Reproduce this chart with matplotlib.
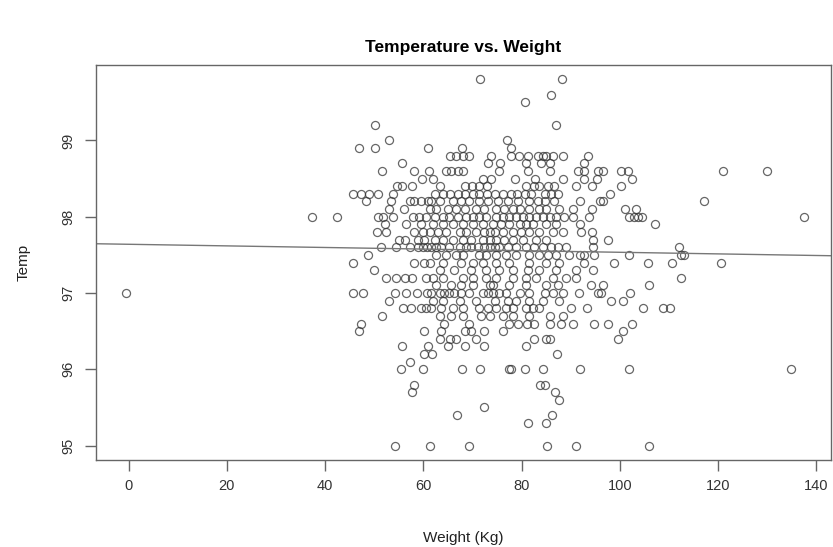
import numpy as np
import matplotlib
matplotlib.use("Agg")
import matplotlib.pyplot as plt

plt.rcParams['font.family'] = ['Liberation Sans', 'DejaVu Sans']

temp_rows = [99.8, 99.6, 99.5, 99.2, 99.0, 98.9, 98.8, 98.7, 98.6, 98.5, 98.4,
             98.3, 98.2, 98.1, 98.0, 97.9, 97.8, 97.7, 97.6, 97.5, 97.4, 97.3,
             97.2, 97.1, 97.0, 96.9, 96.8, 96.7, 96.6, 96.5, 96.4, 96.3, 96.2,
             96.1, 96.0, 95.8, 95.7, 95.6, 95.5, 95.4, 95.3, 95.0]
weights_by_row = [
    [71.6, 88.3],
    [86.0],
    [80.7],
    [50.2, 87.0],
    [53.1, 77.1],
    [46.9, 50.2, 61.0, 67.9, 77.9],
    [65.5, 66.7, 68.0, 69.4, 73.7, 77.9, 79.4, 81.3, 83.3, 84.3, 85.0, 86.3, 88.4, 93.5],
    [55.6, 73.1, 75.7, 80.9, 84.0, 85.7, 92.8],
    [51.5, 58.0, 61.2, 64.7, 65.7, 67.0, 68.0, 75.5, 81.4, 85.7, 91.4, 92.8, 95.5,
     96.5, 100.3, 101.6, 121.1, 130.0],
    [59.8, 61.9, 72.1, 73.8, 78.6, 82.8, 88.4, 92.8, 95.3, 102.5],
    [54.6, 55.6, 57.7, 63.3, 68.4, 69.9, 71.4, 72.9, 80.9, 82.6, 83.6, 85.3, 86.7,
     91.1, 94.4, 100.3],
    [45.6, 47.4, 49.0, 50.7, 53.8, 62.3, 64.0, 65.5, 67.0, 68.4, 70.1, 71.4, 72.9,
     74.5, 76.2, 77.9, 79.0, 80.6, 81.9, 84.7, 86.0, 87.4, 98.0],
    [48.4, 53.5, 57.2, 58.2, 59.6, 60.9, 61.6, 63.3, 66.0, 67.7, 69.4, 71.4, 73.1,
     75.2, 77.2, 79.2, 81.6, 83.3, 84.7, 86.7, 91.9, 96.0, 96.5, 117.2],
    [53.1, 56.1, 61.3, 62.6, 65.0, 66.7, 68.4, 70.8, 72.4, 74.8, 76.5, 78.2, 79.6,
     81.6, 83.6, 85.0, 87.7, 90.4, 94.4, 101.1, 103.3],
    [37.4, 42.5, 50.7, 51.8, 53.8, 57.9, 59.2, 60.6, 62.3, 64.0, 65.3, 67.0, 68.7,
     70.1, 71.4, 72.8, 74.8, 76.2, 77.5, 78.9, 80.2, 81.6, 83.0, 84.3, 85.7, 87.0,
     88.7, 90.4, 93.8, 101.8, 102.8, 103.7, 104.5, 137.6],
    [52.1, 56.5, 59.6, 61.9, 64.0, 66.0, 68.0, 70.1, 72.1, 74.1, 75.8, 77.5, 79.6,
     80.9, 82.3, 85.0, 87.0, 91.8, 107.2],
    [50.5, 52.4, 58.0, 59.9, 61.3, 63.0, 64.6, 67.4, 68.7, 70.8, 72.4, 73.5, 74.5,
     76.2, 78.2, 79.9, 81.6, 83.6, 86.4, 88.4, 92.1, 94.4],
    [55.1, 56.2, 58.9, 60.2, 62.3, 64.0, 66.0, 68.0, 69.7, 72.1, 73.5, 74.8, 76.5,
     78.2, 80.2, 83.0, 85.0, 94.5, 97.5],
    [51.4, 54.5, 57.2, 58.9, 59.9, 60.7, 61.6, 62.6, 63.6, 65.3, 67.4, 68.7, 69.7,
     71.1, 72.4, 73.5, 74.5, 75.5, 77.2, 78.9, 80.9, 82.6, 84.3, 86.0, 87.4, 89.1,
     94.6, 112.0],
    [48.8, 62.6, 64.6, 66.7, 68.0, 71.4, 72.8, 74.8, 76.9, 78.9, 81.6, 83.6, 85.3,
     87.0, 89.7, 91.9, 92.8, 94.8, 101.9, 112.5, 113.0],
    [45.6, 58.2, 60.2, 61.3, 64.0, 67.7, 70.1, 72.1, 74.8, 77.5, 81.6, 85.0, 87.7,
     92.8, 98.9, 105.7, 110.6, 120.6],
    [49.9, 63.3, 66.3, 69.7, 72.8, 75.5, 78.2, 81.3, 83.6, 87.0, 91.0, 94.5],
    [52.4, 54.5, 56.2, 57.7, 60.6, 61.9, 64.0, 68.0, 70.1, 72.8, 74.8, 78.2, 80.9,
     83.0, 86.4, 89.1, 91.1, 112.5],
    [62.6, 65.7, 67.7, 70.1, 73.5, 74.1, 77.5, 80.9, 85.0, 87.4, 94.2, 96.5, 106.0],
    [-0.5, 45.6, 47.8, 54.3, 56.5, 58.7, 60.7, 61.6, 63.3, 64.3, 65.3, 66.3, 67.7,
     69.4, 72.1, 73.1, 74.1, 75.5, 76.9, 79.6, 81.6, 84.7, 86.4, 88.4, 91.6, 95.5,
     96.2, 102.0],
    [53.1, 61.9, 64.0, 67.4, 70.8, 74.5, 77.2, 78.9, 81.6, 84.3, 87.7, 98.2, 100.6],
    [55.8, 57.5, 59.6, 60.6, 61.6, 63.6, 66.0, 68.0, 71.4, 73.1, 74.8, 76.9, 78.2,
     80.9, 82.3, 83.6, 90.1, 93.3, 104.8, 108.7, 110.3],
    [51.6, 63.3, 65.7, 68.0, 71.8, 73.5, 76.2, 78.2, 81.6, 85.7, 88.4],
    [47.4, 64.3, 69.4, 77.5, 79.2, 81.1, 82.6, 85.7, 88.0, 90.4, 94.8, 97.5, 102.5],
    [47.0, 60.2, 63.6, 68.4, 69.7, 72.4, 76.2, 100.7],
    [63.3, 65.5, 66.7, 70.8, 82.6, 85.0, 85.7, 99.6],
    [55.6, 60.9, 65.0, 68.4, 72.4, 80.9],
    [60.2, 61.8, 87.3],
    [57.3],
    [55.4, 59.9, 67.9, 71.6, 77.4, 77.8, 80.6, 84.3, 91.8, 101.9, 134.9],
    [58.0, 83.8, 84.7],
    [57.7, 86.9],
    [87.6],
    [72.4],
    [66.8, 86.2],
    [81.4, 84.9],
    [54.3, 61.3, 69.4, 85.1, 91.1, 106.0],
]

# fitted line
fit_intercept = 97.639
fit_slope = -0.00105

weight = np.concatenate([np.array(w, dtype=float) for w in weights_by_row])
temp = np.concatenate([np.full(len(w), t) for t, w in zip(temp_rows, weights_by_row)])

fig = plt.figure(figsize=(8.33, 5.47), dpi=100)
ax = fig.add_axes([0.1149, 0.159, 0.8827, 0.7222])

ax.plot(weight, temp, 'o', ms=5.8, mfc='none', mec='#333333', mew=0.9, alpha=0.75)
ax.axline((0, fit_intercept), slope=fit_slope, color='#777777', lw=1.0)

ax.set_xlim(-6.7, 143)
ax.set_ylim(94.81, 99.99)
ax.set_xticks(np.arange(0, 141, 20))
ax.set_yticks([95, 96, 97, 98, 99])

for s in ax.spines.values():
    s.set_color('#666666')
    s.set_linewidth(1.0)
ax.tick_params(axis='both', colors='#666666', labelcolor='#333333',
               length=8, width=1.0, labelsize=10.5)
ax.tick_params(axis='x', pad=6)
ax.tick_params(axis='y', pad=7)
for lab in ax.get_yticklabels():
    lab.set_rotation(90)
    lab.set_va('center')

ax.set_xlabel('Weight (Kg)', fontsize=11, color='#222222', labelpad=27)
ax.set_ylabel('Temp', fontsize=11, color='#222222', labelpad=22)
ax.set_title('Temperature vs. Weight', fontsize=12.5, fontweight='bold', pad=9)

fig.savefig('out.png', dpi=100)
